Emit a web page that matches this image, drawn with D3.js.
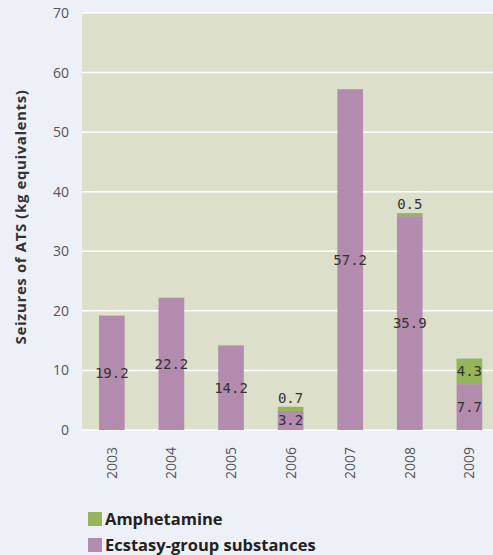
<!DOCTYPE html>
<html>
<head>
<meta charset="utf-8">
<script src="https://cdn.jsdelivr.net/npm/d3@7"></script>
<style>
  html, body { margin: 0; padding: 0; background: #eef0f7; }
  svg { display: block; }
</style>
</head>
<body>
<svg id="chart" width="493" height="555"></svg>
<script>
// Seizures of ATS by year, kg equivalents
const years = ["2003", "2004", "2005", "2006", "2007", "2008", "2009"];
const ecstasy = [19.2, 22.2, 14.2, 3.2, 57.2, 35.9, 7.7];
const amphetamine = [0, 0, 0, 0.7, 0, 0.5, 4.3];
const yTicks = [0, 10, 20, 30, 40, 50, 60, 70];
const seriesNames = ["Amphetamine", "Ecstasy-group substances"];
const colors = { ecstasy: "#b28bae", amphetamine: "#95b55b" };

const svg = d3.select("#chart");
const plot = { left: 82, right: 493, top: 13, bottom: 430 };

const x = d3.scaleBand()
  .domain(years)
  .range([plot.left, plot.left + 7 * 59.6])
  .paddingInner(0.57)
  .paddingOuter(0.285);

const y = d3.scaleLinear()
  .domain([0, 70])
  .range([plot.bottom, plot.top]);

// plot background
svg.append("rect")
  .attr("x", plot.left).attr("y", plot.top)
  .attr("width", plot.right - plot.left)
  .attr("height", plot.bottom - plot.top)
  .attr("fill", "#dcdfca");

// gridlines
svg.append("g")
  .selectAll("line")
  .data(yTicks)
  .join("line")
  .attr("x1", plot.left).attr("x2", plot.right)
  .attr("y1", d => y(d)).attr("y2", d => y(d))
  .attr("stroke", "#ffffff").attr("stroke-width", 1.5);

// y axis labels
const yAxis = d3.axisLeft(y).tickValues(yTicks).tickSize(0).tickPadding(13);
svg.append("g")
  .attr("transform", `translate(${plot.left},0)`)
  .call(yAxis)
  .call(g => g.select(".domain").remove())
  .call(g => g.selectAll("text")
    .attr("font-family", "'Open Sans', sans-serif")
    .attr("font-size", 14)
    .attr("fill", "#555"));

// y axis title
svg.append("text")
  .attr("transform", "translate(26,217) rotate(-90)")
  .attr("text-anchor", "middle")
  .attr("font-family", "'Open Sans', sans-serif")
  .attr("font-weight", "bold")
  .attr("font-size", 15)
  .attr("letter-spacing", 0.6)
  .attr("fill", "#333")
  .text("Seizures of ATS (kg equivalents)");

// x axis labels
const xAxis = d3.axisBottom(x).tickSize(0).tickPadding(0);
svg.append("g")
  .attr("transform", `translate(0,${plot.bottom})`)
  .call(xAxis)
  .call(g => g.select(".domain").remove())
  .call(g => g.selectAll("text")
    .attr("transform", "translate(0,17) rotate(-90)")
    .attr("text-anchor", "end")
    .attr("dy", "0.35em")
    .attr("x", 0).attr("y", 0)
    .attr("font-family", "'Open Sans', sans-serif")
    .attr("font-size", 14)
    .attr("fill", "#555"));

// stacked bars
const rows = years.map((yr, i) => ({ year: yr, ecstasy: ecstasy[i], amphetamine: amphetamine[i] }));
const stack = d3.stack().keys(["ecstasy", "amphetamine"]);
const layers = stack(rows);

svg.append("g")
  .selectAll("g")
  .data(layers)
  .join("g")
  .attr("fill", d => colors[d.key])
  .selectAll("rect")
  .data(d => d)
  .join("rect")
  .attr("x", d => x(d.data.year))
  .attr("width", x.bandwidth())
  .attr("y", d => y(d[1]))
  .attr("height", d => y(d[0]) - y(d[1]));

// value labels
const labelFont = "'DejaVu Sans Mono', monospace";
layers.forEach(layer => {
  layer.forEach(d => {
    const v = d.data[layer.key];
    if (!v) return;
    const cx = x(d.data.year) + x.bandwidth() / 2;
    const small = v < 1;
    svg.append("text")
      .attr("x", cx)
      .attr("y", small ? y(d[1]) - 4 : y((d[0] + d[1]) / 2))
      .attr("dy", small ? 0 : "0.35em")
      .attr("text-anchor", "middle")
      .attr("font-family", labelFont)
      .attr("font-size", 14)
      .attr("fill", "#333")
      .text(v.toFixed(1));
  });
});

// legend
const legend = svg.append("g").attr("transform", "translate(88,512)");
const legendItems = [
  { name: seriesNames[0], color: colors.amphetamine },
  { name: seriesNames[1], color: colors.ecstasy }
];
legendItems.forEach((item, i) => {
  const g = legend.append("g").attr("transform", `translate(0,${i * 26})`);
  g.append("rect").attr("width", 14).attr("height", 14).attr("fill", item.color);
  g.append("text")
    .attr("x", 17).attr("y", 13)
    .attr("font-family", "'Open Sans', sans-serif")
    .attr("font-weight", "bold")
    .attr("font-size", 16.5)
    .attr("fill", "#222")
    .text(item.name);
});
</script>
</body>
</html>
